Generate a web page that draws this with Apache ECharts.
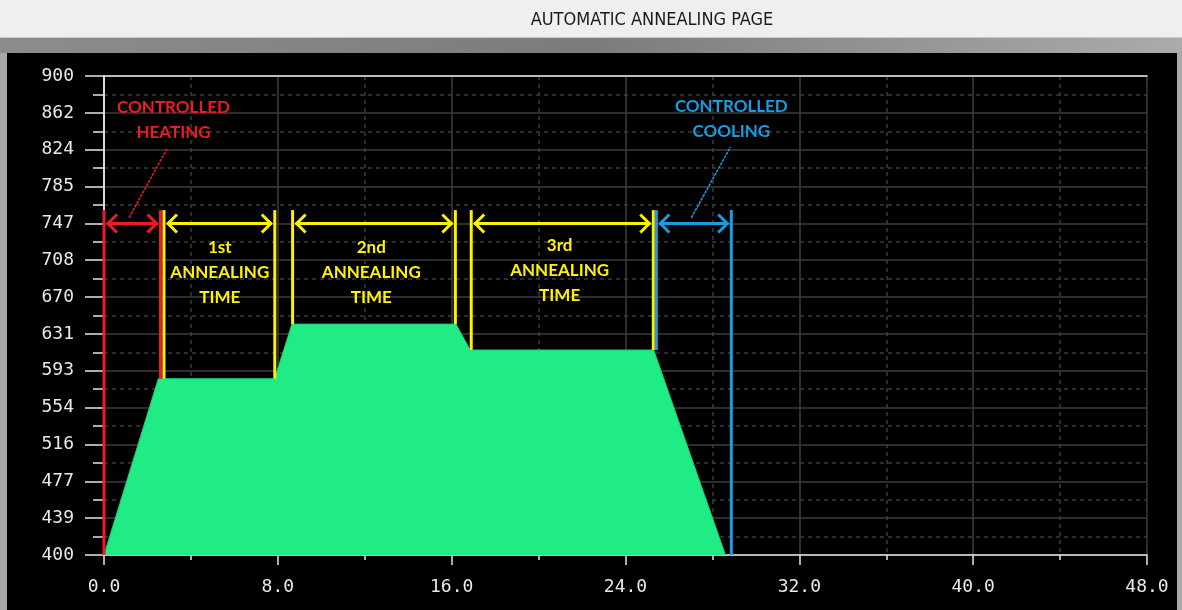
<!DOCTYPE html>
<html>
<head>
<meta charset="utf-8">
<title>Automatic Annealing Page</title>
<script src="https://cdn.jsdelivr.net/npm/echarts@6/dist/echarts.min.js"></script>
<style>
    html,body{margin:0;padding:0;background:#000;}
    #chart{width:1182px;height:610px;}
</style>
</head>
<body>
<div id="chart"></div>
<script>
// 轴刻度
const yTickLabels = ['400','439','477','516','554','593','631','670','708','747','785','824','862','900'];
const xTickLabels = ['0.0','8.0','16.0','24.0','32.0','40.0','48.0'];

// 温度曲线 (时间 h, 温度)
const timeH = [0, 2.5, 7.85, 8.65, 16.2, 16.85, 25.3, 28.6];
const tempC = [400, 584, 584, 641, 641, 614, 614, 400];

// 各阶段标注
const phaseNames = ['CONTROLLED\nHEATING', '1st\nANNEALING\nTIME', '2nd\nANNEALING\nTIME', '3rd\nANNEALING\nTIME', 'CONTROLLED\nCOOLING'];
const phaseStart = [0, 2.76, 8.68, 16.9, 25.42];
const phaseEnd = [2.6, 7.86, 16.17, 25.28, 28.87];
const phaseStartFloor = [400, 584, 641, 614, 614];
const phaseEndFloor = [584, 584, 641, 614, 400];
const markerTop = 760;
const arrowLevel = 746;
const labelX = [3.2, 5.33, 12.3, 20.97, 28.87];
const labelY = [854, 695, 695, 697, 855];
const leaderFrom = [[1.15, 752], null, null, null, [27.03, 752]];
const leaderTo = [[2.9, 824], null, null, null, [28.83, 826]];

const RED = '#ec1c24', YELLOW = '#fff200', BLUE = '#1a9de0';
const phaseColors = [RED, YELLOW, YELLOW, YELLOW, BLUE];

const yMin = 400, yMax = 900;
const yStep = (yMax - yMin) / (yTickLabels.length - 1);
const xStep = 8;

const chart = echarts.init(document.getElementById('chart'));

function renderPhase(params, api){
    const i = api.value(2);
    const c = phaseColors[i];
    const p0 = api.coord([phaseStart[i], phaseStartFloor[i]]);
    const p0t = api.coord([phaseStart[i], markerTop]);
    const p1 = api.coord([phaseEnd[i], phaseEndFloor[i]]);
    const p1t = api.coord([phaseEnd[i], markerTop]);
    const ya = api.coord([0, arrowLevel])[1];
    const lw = 3, pad = 3, ah = 10;
    const ax0 = p0[0] + pad, ax1 = p1[0] - pad;
    const sty = {stroke: c, lineWidth: lw, fill: null};
    const children = [
        {type:'line', shape:{x1:p0[0], y1:p0[1], x2:p0t[0], y2:p0t[1]}, style:{stroke:c, lineWidth:lw}},
        {type:'line', shape:{x1:p1[0], y1:p1[1], x2:p1t[0], y2:p1t[1]}, style:{stroke:c, lineWidth:lw}},
        {type:'line', shape:{x1:ax0, y1:ya, x2:ax1, y2:ya}, style:{stroke:c, lineWidth:lw}},
        {type:'polyline', shape:{points:[[ax0+ah, ya-ah+1],[ax0+1, ya],[ax0+ah, ya+ah-1]]}, style:sty},
        {type:'polyline', shape:{points:[[ax1-ah, ya-ah+1],[ax1-1, ya],[ax1-ah, ya+ah-1]]}, style:sty}
    ];
    const lp = api.coord([labelX[i], labelY[i]]);
    children.push({
        type:'text',
        style:{
            text: phaseNames[i], x: lp[0], y: lp[1],
            align:'center', verticalAlign:'middle',
            font:'bold 17px Lato', lineHeight:25, fill:c
        }
    });
    if (leaderFrom[i]){
        const a = api.coord(leaderFrom[i]), b = api.coord(leaderTo[i]);
        children.push({type:'line', shape:{x1:a[0], y1:a[1], x2:b[0], y2:b[1]},
            style:{stroke:c, lineWidth:1.5, lineDash:[3,1]}});
    }
    return {type:'group', children: children};
}

const option = {
    backgroundColor:'#000',
    animation:false,
    graphic:[
        {type:'rect', shape:{x:0, y:0, width:1182, height:38}, style:{fill:'#efefef'}},
        {type:'line', shape:{x1:0, y1:37.5, x2:1182, y2:37.5}, style:{stroke:'#c8c8c8', lineWidth:1}},
        {type:'rect', shape:{x:0, y:38, width:1182, height:15},
            style:{fill:new echarts.graphic.LinearGradient(0,0,1,0,[
                {offset:0, color:'#8c8c8c'},{offset:0.5, color:'#7c7c7c'},{offset:1, color:'#ababab'}])}},
        {type:'rect', shape:{x:0, y:53, width:7, height:557}, style:{fill:'#a8a8a8'}},
        {type:'rect', shape:{x:1177, y:53, width:5, height:557}, style:{fill:'#a8a8a8'}},
        {type:'text', x:652, y:20, style:{text:'AUTOMATIC ANNEALING PAGE', align:'center', verticalAlign:'middle',
            font:'18px "DejaVu Sans Condensed", "DejaVu Sans"', fill:'#1a1a1a'}}
    ],
    grid:{left:104, right:35, top:76, bottom:55},
    xAxis:[{
        type:'value', min:0, max:48, interval:xStep,
        axisLine:{lineStyle:{color:'#e6e6e6', width:1.5}},
        axisTick:{length:10, lineStyle:{color:'#e6e6e6', width:1.5}},
        minorTick:{show:true, splitNumber:2, length:5, lineStyle:{color:'#e6e6e6', width:1.5}},
        axisLabel:{margin:23, color:'#e8e8e8', fontFamily:'DejaVu Sans Mono', fontSize:18,
            formatter:(v)=>xTickLabels[Math.round(v / xStep)]},
        splitLine:{show:true, lineStyle:{color:'#3c3c3c', width:1.5}},
        minorSplitLine:{show:true, lineStyle:{color:'#3c3c3c', width:1.5, type:[4,4]}}
    },{
        type:'value', position:'top', min:0, max:48,
        axisLine:{show:true, lineStyle:{color:'#e6e6e6', width:1.5}},
        axisTick:{show:false}, axisLabel:{show:false}, splitLine:{show:false}
    }],
    yAxis:[{
        type:'value', min:yMin, max:yMax, interval:yStep,
        axisLine:{show:true, lineStyle:{color:'#e6e6e6', width:1.5}},
        axisTick:{show:true, length:19, lineStyle:{color:'#e6e6e6', width:1.5}},
        minorTick:{show:true, splitNumber:2, length:11, lineStyle:{color:'#e6e6e6', width:1.5}},
        axisLabel:{margin:30, color:'#e8e8e8', fontFamily:'DejaVu Sans Mono', fontSize:18,
            formatter:(v)=>yTickLabels[Math.round((v - yMin) / yStep)]},
        splitLine:{show:true, lineStyle:{color:'#3c3c3c', width:1.5}},
        minorSplitLine:{show:true, lineStyle:{color:'#3c3c3c', width:1.5, type:[4,4]}}
    },{
        type:'value', position:'right', min:yMin, max:yMax,
        axisLine:{show:true, lineStyle:{color:'#e6e6e6', width:1.5}},
        axisTick:{show:false}, axisLabel:{show:false}, splitLine:{show:false}
    }],
    series:[{
        type:'line',
        data: timeH.map((t, i) => [t, tempC[i]]),
        showSymbol:false, symbol:'none',
        lineStyle:{width:1, color:'#1ccf76'},
        areaStyle:{color:'#20ec86', opacity:1, origin:'start'},
        z:2
    },{
        type:'custom',
        renderItem: renderPhase,
        data: phaseNames.map((n, i) => [phaseStart[i], markerTop, i]),
        encode:{x:0, y:1},
        clip:false,
        z:5
    }]
};

chart.setOption(option);
</script>
</body>
</html>
